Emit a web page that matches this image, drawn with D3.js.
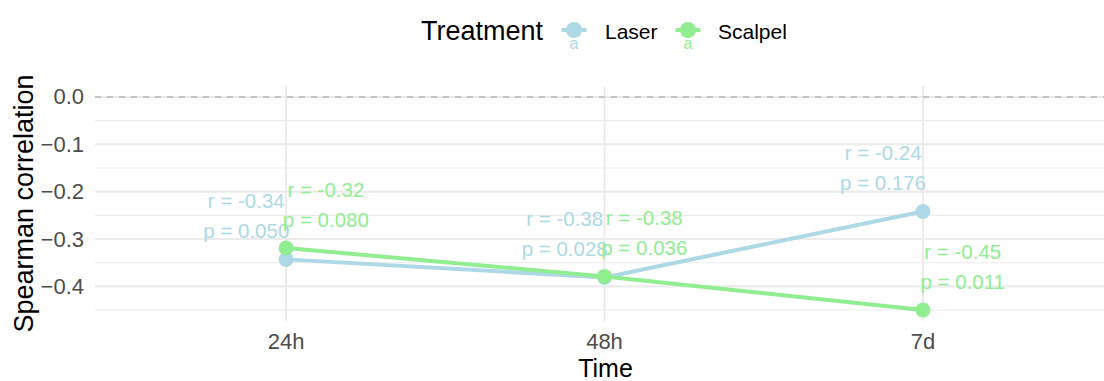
<!DOCTYPE html>
<html>
<head>
<meta charset="utf-8">
<script src="https://cdn.jsdelivr.net/npm/d3@7"></script>
<style>
  html, body { margin: 0; padding: 0; background: #fff; }
  svg { display: block; font-family: "Liberation Sans", Arial, sans-serif; }
</style>
</head>
<body>
<svg id="chart" width="1104" height="381"></svg>
<script>
const categories = ["24h", "48h", "7d"];
const seriesNames = ["Laser", "Scalpel"];
const seriesColors = ["#ADD8E6", "#90EE90"];
const laserR = [-0.343, -0.381, -0.242];
const scalpelR = [-0.319, -0.379, -0.450];
const laserP = ["0.050", "0.028", "0.176"];
const scalpelP = ["0.080", "0.036", "0.011"];
const yTicks = [0.0, -0.1, -0.2, -0.3, -0.4];
const yMinor = [-0.05, -0.15, -0.25, -0.35, -0.45];

const series = [
  { name: seriesNames[0], color: seriesColors[0], r: laserR, p: laserP, nudge: -0.125 },
  { name: seriesNames[1], color: seriesColors[1], r: scalpelR, p: scalpelP, nudge: 0.125 }
];

const svg = d3.select("#chart");
const panel = { left: 95, right: 1114, top: 86.3, bottom: 320.7 };

const x = d3.scalePoint().domain(categories).range([panel.left, panel.right]).padding(0.6);
const y = d3.scaleLinear().domain([-0.4725, 0.0225]).range([panel.bottom, panel.top]);

const g = svg.append("g");

// minor grid
g.selectAll(".minor").data(yMinor).join("line")
  .attr("x1", panel.left).attr("x2", panel.right)
  .attr("y1", d => y(d)).attr("y2", d => y(d))
  .attr("stroke", "#EBEBEB").attr("stroke-width", 1.1);
// major grid
g.selectAll(".major").data(yTicks).join("line")
  .attr("x1", panel.left).attr("x2", panel.right)
  .attr("y1", d => y(d)).attr("y2", d => y(d))
  .attr("stroke", "#EBEBEB").attr("stroke-width", 2.1);
g.selectAll(".vmajor").data(categories).join("line")
  .attr("x1", d => x(d)).attr("x2", d => x(d))
  .attr("y1", panel.top).attr("y2", panel.bottom)
  .attr("stroke", "#EBEBEB").attr("stroke-width", 2.1);

// dashed zero line
g.append("line")
  .attr("x1", panel.left).attr("x2", panel.right)
  .attr("y1", y(0)).attr("y2", y(0))
  .attr("stroke", "#B8B8B8").attr("stroke-width", 1.6)
  .attr("stroke-dasharray", "6,6");

// axes tick labels
g.selectAll(".ylab").data(yTicks).join("text")
  .attr("x", 84).attr("y", d => y(d))
  .attr("text-anchor", "end").attr("dominant-baseline", "central")
  .attr("fill", "#4D4D4D").attr("font-size", 22)
  .text(d => d3.format(".1f")(d));
g.selectAll(".xlab").data(categories).join("text")
  .attr("x", d => x(d)).attr("y", 349)
  .attr("text-anchor", "middle")
  .attr("fill", "#4D4D4D").attr("font-size", 22)
  .text(d => d);

// axis titles
g.append("text").attr("x", (panel.left + 1104) / 2 + 6).attr("y", 377)
  .attr("text-anchor", "middle").attr("font-size", 25).attr("fill", "#000")
  .text("Time");
g.append("text")
  .attr("transform", `translate(33,${(panel.top + panel.bottom) / 2}) rotate(-90)`)
  .attr("text-anchor", "middle").attr("font-size", 27).attr("fill", "#000")
  .text("Spearman correlation");

// lines and points
const line = d3.line().x((d, i) => x(categories[i])).y(d => y(d));
series.forEach(s => {
  g.append("path").datum(s.r)
    .attr("d", line).attr("fill", "none")
    .attr("stroke", s.color).attr("stroke-width", 4);
});
series.forEach(s => {
  g.selectAll(null).data(s.r).join("circle")
    .attr("cx", (d, i) => x(categories[i])).attr("cy", d => y(d))
    .attr("r", 7.5).attr("fill", s.color);
});

// annotations
const step = x.step();
series.forEach(s => {
  s.r.forEach((v, i) => {
    const tx = x(categories[i]) + s.nudge * step;
    const ty = y(v);
    g.append("text").attr("x", tx).attr("y", ty - 59)
      .attr("text-anchor", "middle").attr("dominant-baseline", "central")
      .attr("font-size", 20.5).attr("fill", s.color)
      .text("r = " + d3.format(".2f")(v).replace("−", "-"));
    g.append("text").attr("x", tx).attr("y", ty - 29)
      .attr("text-anchor", "middle").attr("dominant-baseline", "central")
      .attr("font-size", 20.5).attr("fill", s.color)
      .text("p = " + s.p[i]);
  });
});

// legend
const legend = svg.append("g");
legend.append("text").attr("x", 421).attr("y", 40)
  .attr("font-size", 27).attr("fill", "#000").text("Treatment");
const keyX = [574, 688];
const labX = [605, 718];
series.forEach((s, i) => {
  legend.append("line")
    .attr("x1", keyX[i] - 12.5).attr("x2", keyX[i] + 12.5)
    .attr("y1", 30).attr("y2", 30)
    .attr("stroke", s.color).attr("stroke-width", 4);
  legend.append("circle").attr("cx", keyX[i]).attr("cy", 30)
    .attr("r", 8).attr("fill", s.color);
  legend.append("text").attr("x", keyX[i]).attr("y", 43)
    .attr("text-anchor", "middle").attr("dominant-baseline", "central")
    .attr("font-size", 16).attr("fill", s.color).text("a");
  legend.append("text").attr("x", labX[i]).attr("y", 38.5)
    .attr("font-size", 21).attr("fill", "#000").text(s.name);
});
</script>
</body>
</html>
